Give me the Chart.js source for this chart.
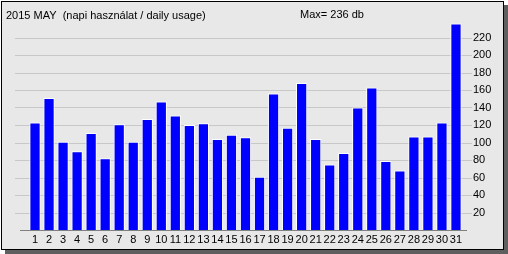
<!DOCTYPE html>
<html>
<head>
<meta charset="utf-8">
<script src="https://cdn.jsdelivr.net/npm/chart.js@4"></script>
<style>
  html, body { margin: 0; padding: 0; background: #fff; }
  canvas { display: block; }
</style>
</head>
<body>
<canvas id="usageChart" width="508" height="254"></canvas>
<script>
// daily usage, May 2015
const days = ['1','2','3','4','5','6','7','8','9','10','11','12','13','14','15','16',
              '17','18','19','20','21','22','23','24','25','26','27','28','29','30','31'];
const usage = [123, 151, 101, 90, 111, 82, 121, 101, 127, 147, 131, 120, 122, 104, 109, 106,
               61, 156, 117, 168, 104, 75, 88, 140, 163, 79, 68, 107, 107, 123, 236];
const yTicks = [20, 40, 60, 80, 100, 120, 140, 160, 180, 200, 220];

const titleText = '2015 MAY  (napi használat / daily usage)';
const maxText = 'Max= ' + Math.max(...usage) + ' db';

const FONT = '11px "Liberation Sans", Arial, sans-serif';

// panel, shadow, grid lines and header text
const panelPlugin = {
    id: 'panel',
    beforeDraw(chart) {
        const { ctx, width, height } = chart;
        const y = chart.scales.y;
        ctx.save();
        ctx.fillStyle = '#ffffff';
        ctx.fillRect(0, 0, width, height);
        ctx.fillStyle = '#5f5f5f';
        ctx.fillRect(5, 5, width - 5, height - 5);
        ctx.fillStyle = '#e8e8e8';
        ctx.fillRect(1, 1, 502, 248);
        ctx.strokeStyle = '#000000';
        ctx.lineWidth = 1;
        ctx.strokeRect(1.5, 1.5, 502, 248);

        // grid lines
        ctx.strokeStyle = '#c8c8c8';
        yTicks.forEach(v => {
            const py = Math.round(y.getPixelForValue(v)) + 0.5;
            ctx.beginPath();
            ctx.moveTo(15, py);
            ctx.lineTo(472, py);
            ctx.stroke();
        });
        // base line
        const by = Math.round(y.getPixelForValue(0)) + 0.5;
        ctx.strokeStyle = '#808080';
        ctx.beginPath();
        ctx.moveTo(20, by);
        ctx.lineTo(467, by);
        ctx.stroke();

        ctx.fillStyle = '#000000';
        ctx.font = FONT;
        ctx.textBaseline = 'middle';
        ctx.textAlign = 'left';
        ctx.fillText(titleText, 6, 15.5);
        ctx.fillText(maxText, 300, 15);
        ctx.restore();
    }
};

new Chart(document.getElementById('usageChart'), {
    type: 'bar',
    data: {
        labels: days,
        datasets: [{
            data: usage,
            backgroundColor: '#0000ff',
            borderColor: '#ffffff',
            borderWidth: 1,
            barPercentage: 0.8,
            categoryPercentage: 1
        }]
    },
    options: {
        responsive: false,
        animation: false,
        devicePixelRatio: 1,
        layout: { padding: { top: 20, left: 28, right: 0, bottom: 0 } },
        plugins: {
            legend: { display: false },
            tooltip: { enabled: false }
        },
        scales: {
            x: {
                grid: { display: false, drawTicks: false },
                border: { display: false },
                ticks: {
                    color: '#000000',
                    font: { family: '"Liberation Sans", Arial, sans-serif', size: 11 },
                    padding: 3,
                    maxRotation: 0,
                    minRotation: 0,
                    autoSkip: false
                },
                afterFit: s => { s.height = 24; }
            },
            y: {
                position: 'right',
                min: 0,
                max: 240,
                grid: { display: false, drawTicks: false },
                border: { display: false },
                ticks: {
                    color: '#000000',
                    font: { family: '"Liberation Sans", Arial, sans-serif', size: 11 },
                    padding: 10
                },
                afterBuildTicks: s => { s.ticks = yTicks.map(v => ({ value: v })); },
                afterFit: s => { s.width = 45; }
            }
        }
    },
    plugins: [panelPlugin]
});
</script>
</body>
</html>
